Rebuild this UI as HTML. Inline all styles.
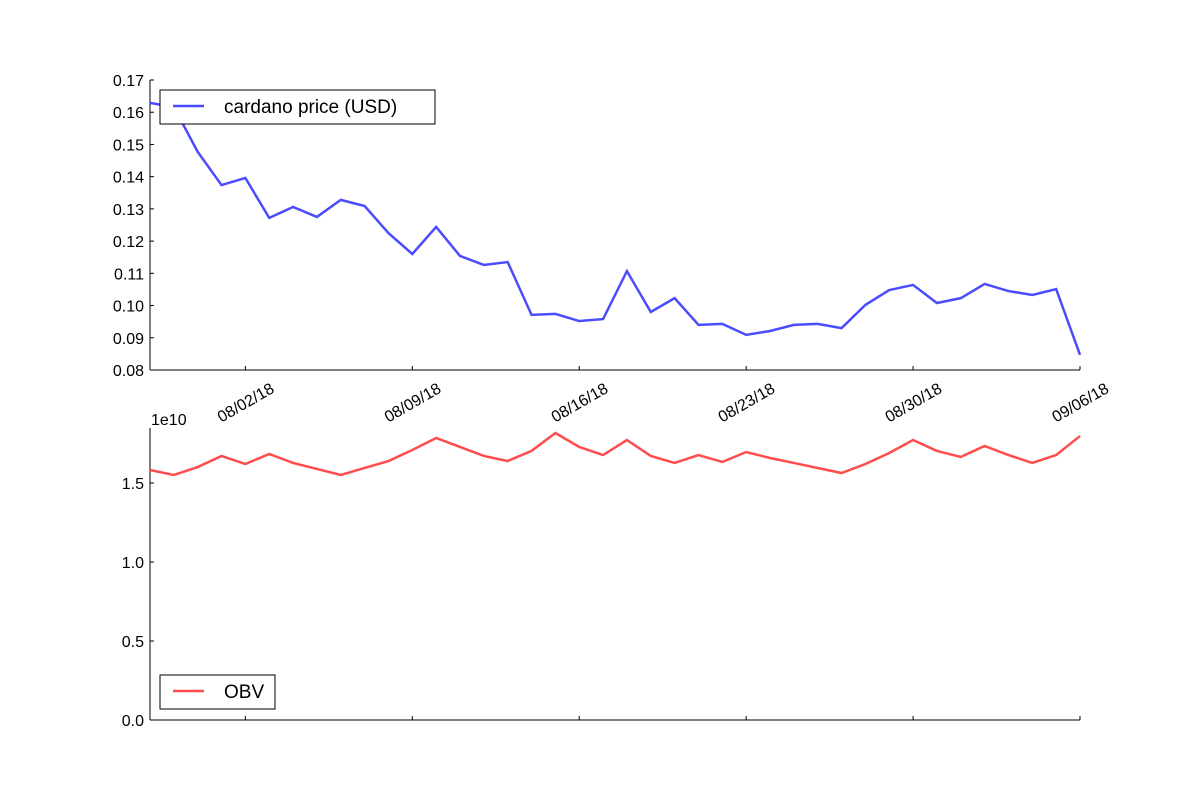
<!DOCTYPE html>
<html><head><meta charset="utf-8"><style>
html,body{margin:0;padding:0;background:#fff;}
svg text{font-family:"Liberation Sans","DejaVu Sans",sans-serif;fill:#000;}
</style></head><body>
<svg id="c" width="1200" height="800" xmlns="http://www.w3.org/2000/svg">
<g id="topPanel"></g>
<g id="botPanel"></g>
</svg>
<script>
const dateTicks = ["08/02/18","08/09/18","08/16/18","08/23/18","08/30/18","09/06/18"];
const dateTickIdx = [4,11,18,25,32,39];
const priceTicks = [0.08,0.09,0.10,0.11,0.12,0.13,0.14,0.15,0.16,0.17];
const obvTicks = [0,0.5,1.0,1.5];
const price = [0.1629,0.1616,0.1477,0.1374,0.1396,0.1272,0.1306,0.1275,0.1328,0.1309,0.1225,0.1160,0.1244,0.1154,0.1126,0.1135,0.0971,0.0974,0.0952,0.0958,0.1107,0.0980,0.1023,0.0940,0.0943,0.0909,0.0921,0.0940,0.0943,0.0930,0.1002,0.1048,0.1064,0.1008,0.1023,0.1067,0.1045,0.1033,0.1051,0.0847];
const obv = [1.582,1.551,1.601,1.671,1.620,1.684,1.627,1.589,1.551,1.595,1.639,1.709,1.785,1.728,1.671,1.639,1.703,1.816,1.728,1.677,1.772,1.671,1.627,1.677,1.633,1.696,1.658,1.627,1.595,1.563,1.620,1.690,1.772,1.703,1.665,1.734,1.677,1.627,1.677,1.797];

const NS="http://www.w3.org/2000/svg";
function mk(parent,tag,attrs,text){const e=document.createElementNS(NS,tag);for(const k in attrs)e.setAttribute(k,attrs[k]);if(text!==undefined)e.textContent=text;parent.appendChild(e);return e;}
const X0=150,X1=1080;
const xs=i=>X0+(X1-X0)*i/(price.length-1);
const yP=v=>370-(v-0.08)/(0.17-0.08)*290;
const yO=v=>720-v/1.848*292;

const topG=document.getElementById('topPanel'), botG=document.getElementById('botPanel');
let a=mk(topG,'line',{x1:X0,y1:80,x2:X0,y2:370,stroke:'#000','stroke-width':1});


a=mk(topG,'line',{x1:X0,y1:370,x2:X1,y2:370,stroke:'#000','stroke-width':1});


priceTicks.forEach(v=>{
  const y=yP(v);
  mk(topG,'line',{x1:X0,y1:y,x2:X0+4,y2:y,stroke:'#000'});
  const t=mk(topG,'text',{x:144,y:y+6,'text-anchor':'end','font-size':16},v.toFixed(2));
  
  
});
dateTicks.forEach((d,k)=>{
  const xx=xs(dateTickIdx[k]);
  mk(topG,'line',{x1:xx,y1:370,x2:xx,y2:366,stroke:'#000'});
  const t=mk(topG,'text',{x:xx,y:408,'text-anchor':'middle','font-size':16,transform:`rotate(-30 ${xx} 402)`},d);
  
  
});
let p=mk(topG,'polyline',{points:price.map((v,i)=>xs(i)+','+yP(v)).join(' '),fill:'none',stroke:'#4c4cff','stroke-width':2.5});


let lg=mk(topG,'g',{});


mk(lg,'rect',{x:160,y:90,width:275,height:34,fill:'#fff',stroke:'#000'});
mk(lg,'line',{x1:173,y1:106,x2:204,y2:106,stroke:'#4c4cff','stroke-width':2.5});
mk(lg,'text',{x:224,y:113,'font-size':19},'cardano price (USD)');

a=mk(botG,'line',{x1:X0,y1:428,x2:X0,y2:720,stroke:'#000'});


a=mk(botG,'line',{x1:X0,y1:720,x2:X1,y2:720,stroke:'#000'});


obvTicks.forEach(v=>{
  const y=yO(v);
  mk(botG,'line',{x1:X0,y1:y,x2:X0+4,y2:y,stroke:'#000'});
  const t=mk(botG,'text',{x:144,y:y+6,'text-anchor':'end','font-size':16},v.toFixed(1));
  
  
});
dateTickIdx.forEach(i=>{mk(botG,'line',{x1:xs(i),y1:720,x2:xs(i),y2:716,stroke:'#000'});});
let off=mk(botG,'text',{x:151,y:425,'font-size':16},'1e10');


p=mk(botG,'polyline',{points:obv.map((v,i)=>xs(i)+','+yO(v)).join(' '),fill:'none',stroke:'#ff4c4c','stroke-width':2.5});


lg=mk(botG,'g',{});


mk(lg,'rect',{x:160,y:675,width:115,height:34,fill:'#fff',stroke:'#000'});
mk(lg,'line',{x1:173,y1:691,x2:204,y2:691,stroke:'#ff4c4c','stroke-width':2.5});
mk(lg,'text',{x:224,y:698,'font-size':19},'OBV');
</script>
</body></html>
